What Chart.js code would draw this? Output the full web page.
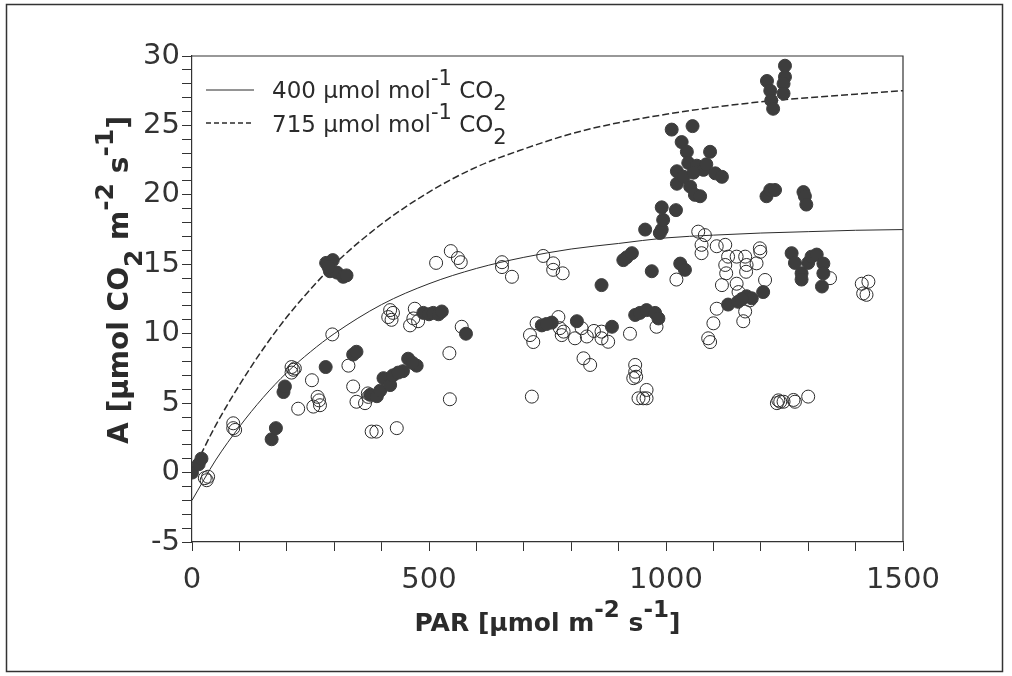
<!DOCTYPE html>
<html>
<head>
<meta charset="utf-8">
<script src="https://cdn.jsdelivr.net/npm/chart.js@4.4.1/dist/chart.umd.min.js"></script>
<style>
  html, body { margin: 0; padding: 0; background: #fff; }
  #wrap { width: 1012px; height: 676px; }
</style>
</head>
<body>
<div id="wrap"><canvas id="chart" width="1012" height="676"></canvas></div>
<script>
// fitted response curves
const curveX = [0, 50, 100, 150, 200, 250, 300, 400, 500, 600, 700, 800, 900, 1000, 1100, 1200, 1300, 1400, 1500];
const curve400 = [-2.0, 0.9, 3.3, 5.4, 7.2, 8.7, 10.0, 12.1, 13.6, 14.7, 15.5, 16.1, 16.5, 16.9, 17.1, 17.25, 17.35, 17.45, 17.5];
const curve715 = [0.0, 3.4, 6.3, 8.9, 11.2, 13.2, 15.0, 17.9, 20.2, 22.0, 23.3, 24.4, 25.2, 25.8, 26.3, 26.7, 27.0, 27.25, 27.5];

// filled circles (715 µmol mol-1)
const filledX = [0, 14, 20, 283, 297, 291, 306, 319, 288, 326, 168, 177, 193, 196, 282, 340, 347,
  376, 390, 397, 404, 418, 424, 445, 456, 474, 435, 465, 488, 500, 509, 520, 527, 578,
  738, 759, 748, 812, 864, 886, 910, 917, 928, 935, 945, 959, 977, 984, 970,
  956, 987, 991, 994, 991, 1021, 1012, 1056, 1033, 1044, 1093, 1047, 1065, 1023, 1079, 1104, 1118,
  1023, 1051, 1061, 1072, 1037, 1058, 1085, 1030, 1040, 1131, 1152, 1170, 1181, 1160, 1205,
  1212, 1220, 1230, 1290, 1293, 1296, 1213, 1220, 1222, 1226, 1251, 1251, 1248, 1248,
  1265, 1272, 1286, 1286, 1300, 1307, 1318, 1332, 1332, 1329];
const filledY = [0, 0.6, 1.0, 15.1, 15.3, 14.5, 14.4, 14.1, 14.8, 14.2, 2.4, 3.2, 5.8, 6.2, 7.6, 8.5, 8.7,
  5.6, 5.5, 5.9, 6.8, 6.3, 7.0, 7.3, 8.2, 7.7, 7.2, 7.9, 11.5, 11.4, 11.5, 11.4, 11.6, 10.0,
  10.6, 10.8, 10.7, 10.9, 13.5, 10.5, 15.3, 15.5, 15.8, 11.35, 11.5, 11.7, 11.5, 11.1, 14.5,
  17.5, 17.25, 17.5, 18.2, 19.1, 18.9, 24.7, 24.95, 23.8, 23.1, 23.1, 22.3, 22.1, 21.7, 21.8, 21.55, 21.3,
  20.8, 20.6, 20.0, 19.9, 21.3, 21.6, 22.2, 15.05, 14.6, 12.1, 12.3, 12.7, 12.55, 12.5, 13.0,
  19.9, 20.35, 20.35, 20.2, 19.9, 19.3, 28.2, 27.5, 26.8, 26.2, 29.3, 28.5, 28.0, 27.3,
  15.8, 15.1, 14.35, 13.9, 15.1, 15.55, 15.7, 15.05, 14.35, 13.4];

// open circles (400 µmol mol-1)
const openX = [27, 34, 31, 87, 87, 91, 296, 210, 214, 217, 210, 253, 224, 256, 265, 270, 268,
  330, 340, 347, 365, 372, 371, 379, 389, 432, 543, 544, 717,
  418, 414, 421, 424, 470, 467, 460, 477, 569, 515, 546, 561, 567, 654, 654, 675,
  741, 762, 762, 782, 713, 720, 727, 773, 776, 784, 808, 833, 822, 848, 826, 840, 780,
  864, 864, 878, 924, 980, 935, 935, 931, 937, 942, 959, 959, 952,
  1022, 1068, 1082, 1075, 1075, 1107, 1125, 1131, 1149, 1167, 1170, 1198, 1199, 1191, 1125, 1127,
  1169, 1209, 1118, 1149, 1153, 1107, 1100, 1089, 1093, 1167, 1163, 1177,
  1237, 1248, 1269, 1234, 1241, 1272, 1300, 1413, 1427, 1416, 1423, 1346];
const openY = [-0.4, -0.3, -0.55, 3.55, 3.2, 3.07, 9.95, 7.6, 7.4, 7.5, 7.2, 6.65, 4.6, 4.75, 5.45, 4.85, 5.2,
  7.7, 6.2, 5.1, 5.0, 5.45, 5.7, 2.95, 2.95, 3.2, 8.6, 5.28, 5.47,
  11.7, 11.2, 11.0, 11.5, 11.8, 11.1, 10.6, 10.9, 10.5, 15.1, 15.95, 15.45, 15.15, 15.15, 14.8, 14.1,
  15.6, 15.07, 14.6, 14.35, 9.9, 9.4, 10.75, 11.2, 10.4, 10.15, 9.67, 9.8, 10.4, 10.2, 8.23, 7.75, 9.9,
  10.15, 9.67, 9.42, 10.0, 10.5, 7.75, 7.26, 6.8, 6.9, 5.35, 5.95, 5.35, 5.35,
  13.9, 17.35, 17.1, 16.4, 15.8, 16.3, 16.4, 15.55, 15.55, 15.55, 14.95, 16.15, 15.9, 15.07, 14.95, 14.35,
  14.46, 13.87, 13.5, 13.6, 13.0, 11.8, 10.75, 9.67, 9.4, 11.6, 10.9, 12.4,
  5.2, 5.1, 5.23, 5.0, 5.1, 5.1, 5.47, 13.6, 13.75, 12.9, 12.8, 14.0];

const xTicks = [0, 500, 1000, 1500];
const yTicks = [-5, 0, 5, 10, 15, 20, 25, 30];

const ink = '#2b2b2b';
const pts = (xs, ys) => xs.map((x, i) => ({ x: x, y: ys[i] }));

// draws text pieces with super/subscripts, centred on (0,0) baseline
function drawRich(ctx, parts, size, weight, family) {
    const widths = parts.map(p => {
        ctx.font = weight + ' ' + Math.round(size * (p.s || 1)) + 'px ' + family;
        return ctx.measureText(p.t).width;
    });
    const total = widths.reduce((a, b) => a + b, 0);
    let x = -total / 2;
    parts.forEach((p, i) => {
        ctx.font = weight + ' ' + Math.round(size * (p.s || 1)) + 'px ' + family;
        ctx.fillText(p.t, x, (p.dy || 0) * size);
        x += widths[i];
    });
}

function drawLeft(ctx, parts, x, y, size, family) {
    parts.forEach(p => {
        ctx.font = Math.round(size * (p.s || 1)) + 'px ' + family;
        ctx.fillText(p.t, x, y + (p.dy || 0) * size);
        x += ctx.measureText(p.t).width;
    });
}

const decor = {
    id: 'decor',
    afterDraw(chart) {
        const ctx = chart.ctx;
        const a = chart.chartArea;
        ctx.save();
        // outer frame
        ctx.strokeStyle = '#333';
        ctx.lineWidth = 1.5;
        ctx.strokeRect(6.5, 4.5, 996, 667);
        // top and right of plot box
        ctx.lineWidth = 1.2;
        ctx.beginPath();
        ctx.moveTo(a.left, a.top);
        ctx.lineTo(a.right, a.top);
        ctx.lineTo(a.right, a.bottom);
        ctx.stroke();

        // legend
        ctx.strokeStyle = ink;
        ctx.lineWidth = 1;
        ctx.beginPath();
        ctx.moveTo(206, 90); ctx.lineTo(254, 90);
        ctx.stroke();
        ctx.lineWidth = 1.4;
        ctx.setLineDash([5, 3]);
        ctx.beginPath();
        ctx.moveTo(206, 123); ctx.lineTo(254, 123);
        ctx.stroke();
        ctx.setLineDash([]);
        ctx.fillStyle = ink;
        ctx.textBaseline = 'alphabetic';
        ctx.textAlign = 'left';
        const fam = "'DejaVu Sans'";
        drawLeft(ctx, [{ t: '400 µmol mol' }, { t: '-1', dy: -0.55, s: 0.9 }, { t: ' CO' }, { t: '2', dy: 0.5, s: 0.9 }], 272, 98, 23, fam);
        drawLeft(ctx, [{ t: '715 µmol mol' }, { t: '-1', dy: -0.55, s: 0.9 }, { t: ' CO' }, { t: '2', dy: 0.5, s: 0.9 }], 272, 132, 23, fam);

        // axis titles
        const bfam = "'DejaVu Sans'";
        ctx.save();
        ctx.translate(547.5, 631);
        drawRich(ctx, [{ t: 'PAR [µmol m' }, { t: '-2', dy: -0.55, s: 0.9 }, { t: ' s' }, { t: '-1', dy: -0.55, s: 0.9 }, { t: ']' }], 25, 'bold', bfam);
        ctx.restore();
        ctx.save();
        ctx.translate(128, 280);
        ctx.rotate(-Math.PI / 2);
        drawRich(ctx, [{ t: 'A [µmol CO' }, { t: '2', dy: 0.5, s: 0.9 }, { t: ' m' }, { t: '-2', dy: -0.55, s: 0.9 }, { t: ' s' }, { t: '-1', dy: -0.55, s: 0.9 }, { t: ']' }], 28, 'bold', bfam);
        ctx.restore();
        ctx.restore();
    }
};

new Chart(document.getElementById('chart'), {
    type: 'scatter',
    data: {
        datasets: [
            {
                label: '715 filled',
                data: pts(filledX, filledY),
                pointRadius: 6.5,
                pointBackgroundColor: '#3d3d3d',
                pointBorderColor: '#3d3d3d',
                pointBorderWidth: 1,
                order: 1
            },
            {
                label: '400 open',
                data: pts(openX, openY),
                pointRadius: 6.5,
                pointBackgroundColor: 'rgba(0,0,0,0)',
                pointBorderColor: '#2b2b2b',
                pointBorderWidth: 1,
                order: 2
            },
            {
                type: 'line',
                label: '400 µmol mol-1 CO2',
                data: pts(curveX, curve400),
                borderColor: ink,
                borderWidth: 1,
                pointRadius: 0,
                cubicInterpolationMode: 'monotone',
                fill: false,
                order: 3
            },
            {
                type: 'line',
                label: '715 µmol mol-1 CO2',
                data: pts(curveX, curve715),
                borderColor: ink,
                borderWidth: 1.5,
                borderDash: [7, 3],
                pointRadius: 0,
                cubicInterpolationMode: 'monotone',
                fill: false,
                order: 3
            }
        ]
    },
    options: {
        responsive: false,
        animation: false,
        devicePixelRatio: 1,
        layout: { padding: { left: 0, top: 56, right: 109, bottom: 0 } },
        plugins: { legend: { display: false }, tooltip: { enabled: false } },
        scales: {
            x: {
                type: 'linear',
                min: 0,
                max: 1500,
                afterFit: s => { s.height = 134; },
                ticks: {
                    stepSize: 100,
                    autoSkip: false,
                    maxRotation: 0,
                    padding: 12,
                    color: '#333',
                    font: { family: "'DejaVu Sans'", size: 29 },
                    callback: v => xTicks.includes(v) ? String(v) : ''
                },
                grid: { drawOnChartArea: false, tickLength: 9, color: '#333', lineWidth: 1 },
                border: { color: '#333', width: 1.2 }
            },
            y: {
                min: -5,
                max: 30,
                afterFit: s => { s.width = 192; },
                ticks: {
                    stepSize: 1,
                    autoSkip: false,
                    padding: 2,
                    color: '#333',
                    font: { family: "'DejaVu Sans'", size: 29 },
                    callback: v => yTicks.includes(v) ? String(v) : ''
                },
                grid: { drawOnChartArea: false, tickLength: 10, color: '#333', lineWidth: 1 },
                border: { color: '#333', width: 1.2 }
            }
        }
    },
    plugins: [decor]
});
</script>
</body>
</html>
